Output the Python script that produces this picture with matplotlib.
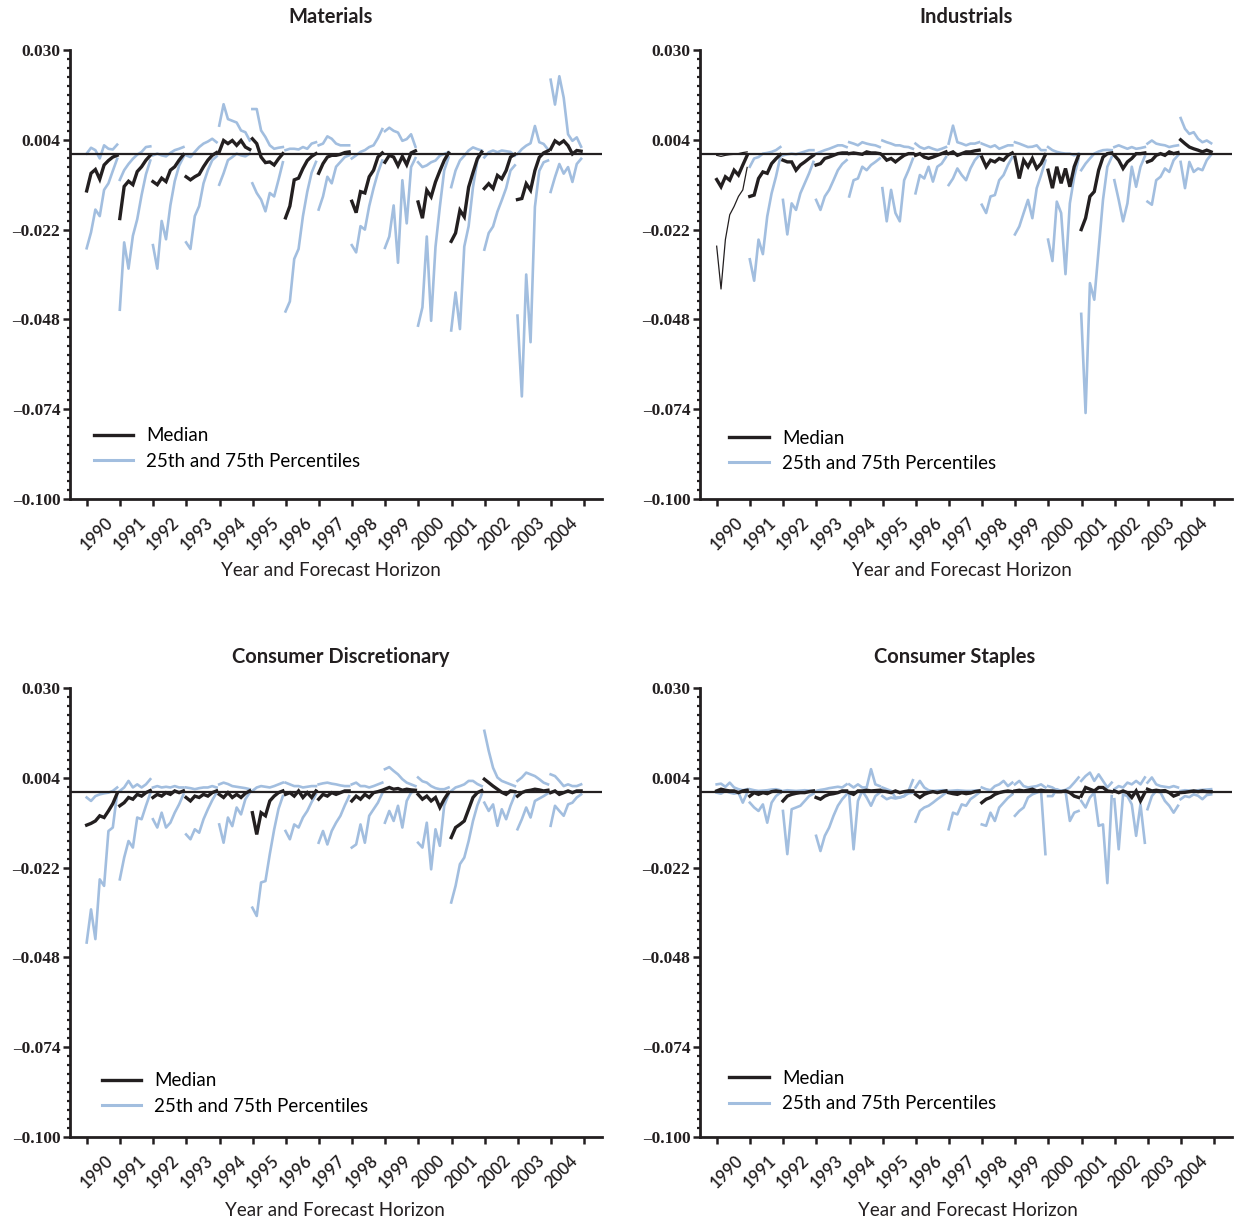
import numpy as np
import matplotlib
matplotlib.use('Agg')
import matplotlib.pyplot as plt
from matplotlib.lines import Line2D

years = list(range(1990, 2005))
y_ticks = [0.030, 0.004, -0.022, -0.048, -0.074, -0.100]
y_tick_labels = ['0.030', '0.004', '\u20130.022', '\u20130.048', '\u20130.074', '\u20130.100']
titles = ['Materials', 'Industrials', 'Consumer Discretionary', 'Consumer Staples']
legend_labels = ['Median', '25th and 75th Percentiles']
x_label = 'Year and Forecast Horizon'

# values in thousandths (0.001), 8 forecast horizons per year
materials_median = [
    [-10.8, -5.7, -4.6, -7.4, -3.3, -2.0, -1.0, -0.5],
    [-18.8, -9.5, -8.0, -9.0, -5.2, -3.8, -1.9, -0.5],
    [-8.1, -9.0, -7.1, -8.1, -4.8, -3.8, -1.9, -0.3],
    [-6.7, -7.6, -6.7, -6.0, -3.8, -1.9, -0.5, 0.3],
    [0.5, 3.8, 2.9, 3.8, 2.4, 3.8, 1.9, 1.2],
    [4.3, 2.9, -1.0, -2.6, -2.4, -3.3, -1.5, 0.0],
    [-18.6, -15.2, -7.6, -7.1, -4.3, -2.0, -0.8, 0.0],
    [-5.7, -2.9, -1.0, -0.5, -0.5, -0.2, 0.3, 0.5],
    [-13.8, -17.1, -11.0, -11.4, -6.7, -4.8, -1.0, 0.2],
    [-2.5, -0.5, -1.0, -3.5, -0.8, -3.2, 0.2, 0.8],
    [-14.0, -18.7, -10.6, -12.5, -8.2, -5.0, -2.0, 0.2],
    [-25.4, -23.0, -16.4, -18.3, -9.7, -5.5, -1.5, 0.5],
    [-10.1, -8.7, -10.1, -6.3, -7.3, -4.9, -1.0, -0.2],
    [-13.3, -13.0, -8.7, -10.6, -4.9, -1.1, 0.2, 0.8],
    [1.3, 3.7, 2.8, 3.7, 2.3, -0.1, 0.9, 0.7],
]
materials_p75 = [
    [0.0, 1.7, 1.0, -1.4, 2.4, 1.4, 1.2, 2.6],
    [-7.6, -4.8, -3.0, -1.5, -0.3, 0.5, 1.9, 2.1],
    [-0.5, 0.0, -0.5, -0.8, 0.2, 1.0, 1.4, 1.9],
    [-0.5, -1.0, 0.5, 1.9, 2.9, 3.5, 4.3, 3.3],
    [8.1, 14.3, 10.0, 9.5, 9.0, 6.7, 6.2, 3.8],
    [12.9, 12.9, 6.7, 4.8, 2.4, 1.4, 1.7, 1.9],
    [1.0, 1.4, 1.4, 1.2, 1.9, 1.4, 2.9, 3.3],
    [2.4, 2.9, 5.0, 4.3, 2.9, 2.4, 2.4, 2.4],
    [-1.4, -0.5, 0.5, 1.0, 1.9, 2.4, 4.5, 7.1],
    [6.5, 7.5, 6.6, 6.1, 3.7, 4.2, 5.6, 2.0],
    [-2.5, -3.9, -3.4, -2.5, -2.0, -0.6, -0.1, 0.4],
    [-9.7, -4.9, -2.0, -0.6, 0.9, 1.8, 1.3, 0.9],
    [-1.1, 0.4, 0.9, 0.4, 0.9, 0.7, 0.5, -0.6],
    [-0.1, 1.3, 2.3, 3.0, 8.0, 3.3, 2.8, 1.2],
    [21.4, 14.2, 22.4, 16.2, 5.6, 3.7, 4.7, 2.0],
]
materials_p25 = [
    [-27.4, -22.8, -16.2, -18.1, -10.5, -8.6, -5.0, -1.5],
    [-45.2, -25.7, -33.3, -23.8, -19.0, -12.0, -6.0, -2.0],
    [-26.5, -33.3, -19.5, -24.8, -15.0, -8.0, -3.5, -1.0],
    [-25.7, -27.6, -18.1, -15.2, -8.6, -4.8, -1.9, -0.8],
    [-9.0, -5.7, -1.9, -1.0, 0.0, -0.5, -0.8, 0.0],
    [-8.6, -11.4, -13.3, -16.7, -11.4, -12.4, -7.6, -2.5],
    [-45.7, -42.8, -30.5, -27.6, -18.1, -11.0, -5.5, -2.4],
    [-16.2, -12.4, -6.7, -8.6, -3.8, -2.4, -1.0, -0.5],
    [-26.5, -28.6, -21.0, -22.0, -15.2, -10.0, -5.5, -2.0],
    [-27.3, -24.0, -15.0, -31.6, -7.7, -20.2, -3.9, -1.3],
    [-49.8, -44.5, -24.0, -48.4, -27.0, -15.4, -4.9, -1.1],
    [-51.2, -40.2, -50.8, -26.9, -21.0, -9.7, -2.0, 0.4],
    [-27.8, -23.0, -21.1, -16.8, -13.5, -10.0, -4.9, -3.4],
    [-46.9, -70.3, -35.0, -54.6, -15.4, -5.0, -2.5, -2.0],
    [-11.1, -6.8, -3.0, -5.8, -3.9, -8.2, -3.0, -1.5],
]

industrials_median = [
    [-7.5, -9.6, -6.7, -7.7, -4.8, -6.2, -3.3, -0.5],
    [-12.4, -12.0, -7.2, -5.3, -5.7, -2.9, -1.5, -0.3],
    [-1.9, -2.4, -2.4, -4.8, -3.3, -2.4, -1.4, -0.5],
    [-3.3, -2.9, -1.4, -1.0, -0.5, 0.0, 0.2, 0.2],
    [0.0, 0.2, 0.0, -0.2, 0.5, 0.2, 0.2, 0.0],
    [-0.5, -1.9, -1.4, -2.4, -1.4, -0.5, 0.0, 0.0],
    [-0.5, 0.0, -1.0, -1.4, -1.0, -0.5, 0.0, 0.5],
    [0.0, 0.5, -0.5, 0.0, 0.5, 0.5, 0.8, 1.0],
    [-1.0, -3.8, -1.9, -2.4, -1.4, -1.9, -0.5, 0.2],
    [-1.0, -7.2, -1.9, -3.8, -1.4, -4.3, -2.9, -0.3],
    [-4.8, -10.0, -3.8, -8.6, -4.3, -9.6, -3.8, -0.5],
    [-22.0, -18.7, -12.4, -11.0, -4.8, -1.0, 0.0, 0.2],
    [-0.5, -1.9, -4.3, -2.4, -1.4, 0.0, 0.0, 0.2],
    [-2.4, -1.9, -0.5, 0.0, -0.5, 0.5, 0.0, 0.3],
    [4.0, 2.9, 1.9, 1.4, 1.0, 0.5, 1.0, 0.5],
]
industrials_p75 = [
    [-0.5, -0.8, -0.5, -0.3, -0.2, 0.0, 0.3, 0.5],
    [-3.8, -1.4, -1.0, 0.0, 0.2, 0.5, 1.0, 1.9],
    [-0.5, -0.2, 0.0, -0.2, 0.2, 0.6, 1.0, 1.0],
    [0.0, 0.5, 1.0, 1.4, 1.9, 2.4, 2.4, 1.9],
    [3.3, 2.9, 2.4, 3.3, 2.9, 2.6, 2.4, 1.9],
    [3.8, 3.3, 2.9, 2.4, 2.4, 2.0, 1.9, 1.4],
    [2.9, 1.9, 1.4, 1.9, 1.4, 1.0, 1.4, 1.9],
    [2.9, 8.1, 3.3, 2.9, 2.4, 2.9, 2.9, 3.3],
    [2.9, 2.4, 1.9, 2.4, 1.4, 1.9, 2.4, 2.4],
    [3.3, 2.9, 2.4, 1.9, 2.0, 2.4, 1.0, 1.0],
    [1.9, 1.0, 0.5, 0.2, 0.0, 0.0, -0.5, 0.0],
    [-4.8, -2.9, -1.4, 0.0, 0.6, 1.0, 1.1, 1.0],
    [1.9, 2.4, 1.9, 1.4, 1.9, 1.4, 1.6, 1.9],
    [2.9, 3.8, 2.9, 2.6, 2.4, 1.9, 2.2, 2.4],
    [10.3, 7.2, 5.7, 6.2, 4.3, 3.3, 3.8, 3.0],
]
industrials_p25 = [
    [-26.8, -39.2, -24.9, -17.7, -15.3, -12.4, -10.5, -4.0],
    [-30.6, -36.8, -24.9, -29.1, -18.2, -11.5, -6.7, -1.0],
    [-13.4, -23.4, -14.4, -16.3, -11.5, -8.6, -5.7, -2.4],
    [-13.4, -16.3, -12.4, -10.5, -7.7, -4.8, -3.0, -1.9],
    [-12.4, -7.7, -7.2, -3.8, -4.8, -3.3, -2.4, -1.4],
    [-10.0, -19.6, -10.5, -17.2, -19.6, -7.7, -4.8, -1.5],
    [-11.5, -6.2, -7.2, -3.8, -8.1, -3.8, -2.9, -1.0],
    [-9.1, -7.2, -4.3, -6.2, -7.7, -4.3, -1.9, -0.5],
    [-14.8, -17.2, -12.4, -12.0, -7.7, -6.2, -3.3, -1.0],
    [-23.4, -21.1, -17.2, -13.4, -18.7, -10.0, -6.2, -2.0],
    [-24.9, -31.1, -13.9, -17.2, -34.9, -14.4, -6.7, -1.5],
    [-46.4, -75.1, -37.5, -42.3, -27.8, -13.4, -3.8, -1.0],
    [-7.7, -13.4, -19.6, -14.4, -3.8, -9.6, -3.8, -0.8],
    [-13.9, -14.8, -7.7, -6.7, -4.3, -5.3, -1.9, -0.5],
    [-2.4, -10.0, -2.4, -5.3, -4.3, -4.8, -1.9, -0.3],
]

discretionary_median = [
    [-9.7, -9.2, -8.5, -7.0, -7.5, -5.6, -3.5, -0.5],
    [-4.1, -3.2, -1.7, -2.2, -0.8, -1.3, -0.3, 0.3],
    [-1.7, -0.8, -1.3, -0.3, -0.8, 0.2, -0.3, 0.2],
    [-1.7, -2.7, -1.3, -1.7, -0.8, -1.3, -0.3, 0.2],
    [-0.8, -1.7, -0.3, -1.7, -0.8, -1.7, -0.5, 0.2],
    [-6.1, -12.4, -6.1, -7.0, -2.7, -1.3, -0.3, 0.2],
    [-0.8, -0.3, -1.3, 0.2, -1.7, -0.3, -1.7, 0.2],
    [-2.2, -0.8, -1.3, -0.3, -0.8, -0.3, 0.2, 0.2],
    [-2.7, -1.3, -2.2, -0.8, -1.7, -0.3, 0.0, 0.4],
    [0.7, 1.2, 0.7, 0.9, 0.4, 0.7, 0.5, 0.4],
    [-0.8, -2.2, -1.3, -2.7, -1.7, -4.6, -2.2, -0.3],
    [-13.3, -10.4, -9.5, -8.5, -5.1, -1.7, -0.3, 0.3],
    [3.6, 2.6, 1.6, 0.7, -0.2, -0.8, 0.2, 0.0],
    [-1.3, -0.3, 0.2, 0.4, 0.7, 0.5, 0.2, 0.4],
    [-0.3, 0.2, -0.8, -0.3, 0.2, -0.3, 0.2, 0.2],
]
discretionary_p75 = [
    [-1.7, -2.7, -1.3, -0.8, -0.5, -0.3, 0.2, 1.2],
    [0.2, 1.2, 3.1, 1.2, 2.1, 1.2, 2.1, 3.6],
    [1.2, 1.6, 1.2, 1.4, 1.2, 1.6, 1.2, 1.2],
    [1.2, 1.0, 0.7, 1.0, 1.2, 1.2, 1.6, 1.2],
    [2.1, 2.6, 2.2, 1.6, 1.4, 1.2, 1.0, 0.7],
    [0.2, 1.2, 1.6, 1.4, 1.2, 1.6, 2.1, 2.6],
    [2.6, 2.1, 1.6, 1.6, 1.2, 1.4, 1.6, 1.6],
    [2.1, 2.4, 2.6, 2.3, 2.1, 1.8, 1.6, 1.6],
    [2.1, 2.6, 1.6, 1.6, 1.2, 1.6, 2.1, 2.6],
    [6.5, 7.1, 6.0, 5.0, 3.6, 2.6, 2.1, 1.6],
    [4.1, 3.0, 2.6, 1.6, 1.0, 0.7, 0.7, 1.2],
    [0.2, 1.2, 1.6, 2.1, 3.1, 3.1, 2.2, 1.6],
    [17.6, 11.8, 6.9, 4.1, 3.1, 2.6, 2.1, 1.6],
    [3.1, 4.1, 5.5, 5.0, 4.5, 3.6, 2.6, 2.1],
    [5.0, 4.5, 3.1, 1.6, 2.1, 1.6, 1.6, 2.1],
]
discretionary_p25 = [
    [-43.7, -34.1, -42.7, -25.4, -27.3, -11.4, -10.4, -0.5],
    [-25.4, -19.1, -14.3, -16.2, -7.5, -8.0, -4.1, -0.5],
    [-8.0, -10.4, -6.1, -10.4, -9.0, -6.1, -3.7, -0.8],
    [-12.4, -13.8, -10.9, -11.9, -8.0, -5.1, -2.5, -0.3],
    [-9.5, -14.8, -7.5, -10.0, -4.6, -6.6, -2.2, -0.3],
    [-33.6, -36.0, -26.3, -25.9, -18.1, -11.0, -5.0, -1.3],
    [-11.4, -13.8, -9.5, -10.4, -7.5, -5.6, -3.0, -0.8],
    [-14.8, -11.4, -15.3, -11.4, -9.0, -7.0, -4.0, -1.3],
    [-16.2, -15.3, -9.5, -14.8, -7.0, -5.1, -3.2, -0.5],
    [-9.0, -5.6, -8.5, -4.1, -10.4, -2.7, -0.3, 0.2],
    [-14.8, -16.2, -9.0, -22.5, -10.9, -15.7, -4.1, -0.8],
    [-32.1, -27.3, -21.0, -19.1, -14.3, -8.5, -4.0, -0.8],
    [-3.2, -5.6, -3.7, -9.9, -5.1, -8.0, -4.1, -1.0],
    [-10.9, -8.0, -4.6, -7.5, -2.7, -2.0, -1.3, -0.5],
    [-9.9, -4.1, -5.6, -7.0, -3.7, -3.2, -1.7, -0.8],
]

staples_median = [
    [0.2, 0.7, 0.4, 0.2, 0.2, -0.3, 0.2, 0.4],
    [-1.3, -0.3, -0.8, -0.3, -0.6, 0.0, 0.2, 0.0],
    [-2.7, -1.3, -0.8, -0.5, -0.3, -0.3, 0.0, 0.2],
    [-1.7, -2.2, -1.3, -0.8, -0.6, -0.3, 0.2, 0.2],
    [-0.3, -0.8, 0.2, 0.2, 0.4, 0.2, 0.3, 0.4],
    [0.2, 0.0, -0.3, 0.2, -0.3, 0.0, 0.2, 0.2],
    [-0.8, -1.7, -0.8, -0.3, 0.0, -0.3, 0.0, 0.2],
    [-0.3, -0.6, -0.8, -0.3, -0.6, -0.4, 0.0, 0.2],
    [-3.2, -2.2, -1.7, -0.8, -0.3, 0.0, 0.2, 0.0],
    [0.2, 0.4, 0.2, 0.4, 0.7, 0.2, 0.4, 0.2],
    [0.2, 0.2, 0.0, 0.0, 0.2, -0.3, -1.3, -1.7],
    [-1.3, 1.2, 0.7, 0.2, 1.2, 1.2, 0.2, 0.0],
    [0.2, -0.3, 0.2, -0.3, -1.7, 0.2, -2.7, -0.3],
    [0.7, 0.2, 0.4, 0.2, 0.3, -0.3, -1.3, -0.8],
    [-0.3, -0.2, 0.0, 0.2, 0.0, 0.2, 0.0, 0.0],
]
staples_p75 = [
    [2.1, 2.3, 1.4, 2.6, 1.2, 0.7, 0.4, 0.7],
    [0.7, 0.4, 0.2, 0.3, 0.4, 0.6, 0.7, 0.4],
    [0.2, 0.4, 0.3, 0.2, 0.3, 0.4, 0.3, 0.2],
    [0.2, 0.5, 0.7, 1.0, 1.2, 1.4, 1.2, 2.1],
    [2.1, 1.2, 2.1, 1.2, 1.2, 6.5, 2.1, 1.6],
    [1.2, 0.7, 0.2, -1.7, -1.7, -1.3, 0.2, 3.3],
    [1.2, 3.1, 1.2, 0.4, 0.2, 0.3, 0.4, 0.4],
    [0.2, 0.3, 0.4, 0.3, 0.2, 0.2, 0.3, 0.4],
    [1.2, 0.7, 0.4, 1.6, 2.1, 3.1, 1.6, 2.6],
    [2.1, 3.1, 1.6, 1.2, 1.4, 1.6, 2.1, 1.2],
    [1.6, 1.2, 0.4, 0.2, 0.5, 1.2, 2.6, 4.1],
    [3.1, 4.5, 5.5, 3.1, 5.0, 3.1, 1.2, 2.6],
    [0.7, 1.6, 1.2, 2.6, 2.1, 3.1, 2.1, 4.1],
    [2.6, 4.1, 2.1, 1.6, 1.4, 1.2, 1.6, 1.2],
    [0.2, 0.4, 0.3, 0.2, 0.4, 0.5, 0.6, 0.7],
]
staples_p25 = [
    [-0.3, -0.6, 0.2, -0.3, -0.6, -0.3, -3.2, -0.3],
    [-3.2, -4.6, -5.6, -3.7, -9.0, -3.2, -1.3, -0.3],
    [-5.6, -18.1, -5.1, -4.6, -4.1, -2.7, -1.3, -0.6],
    [-12.8, -17.2, -12.8, -10.4, -7.0, -4.1, -2.2, -0.8],
    [-1.0, -16.7, -2.7, 0.2, -1.7, -4.1, -1.3, -0.3],
    [-1.3, -2.2, -1.7, -2.0, -1.7, -1.3, -0.5, -0.3],
    [-8.7, -5.6, -4.6, -4.1, -3.2, -2.2, -1.3, -0.3],
    [-10.9, -6.1, -6.6, -3.7, -4.1, -2.2, -1.3, -0.3],
    [-9.5, -9.9, -6.1, -8.5, -4.6, -3.2, -1.8, -0.8],
    [-7.0, -5.6, -4.6, -1.7, -0.8, -0.3, 0.2, -18.1],
    [-1.3, -1.3, 0.7, 0.2, 0.2, -8.5, -6.1, -5.6],
    [-2.7, -4.6, -1.7, -0.3, -9.9, -9.5, -26.5, -1.3],
    [-2.2, -16.7, -0.8, -1.3, -3.7, -12.8, -3.7, -14.8],
    [-5.1, -1.3, 0.2, -0.3, -2.7, -4.1, -6.1, -4.1],
    [-2.2, -1.3, -1.6, -0.8, -1.2, -2.2, -1.0, -0.8],
]

panels = [
    (materials_median, materials_p75, materials_p25),
    (industrials_median, industrials_p75, industrials_p25),
    (discretionary_median, discretionary_p75, discretionary_p25),
    (staples_median, staples_p75, staples_p25),
]

BLUE = '#a2bedf'
BLACK = '#231f20'
W, H = 1235, 1224

fig = plt.figure(figsize=(W / 100, H / 100), dpi=100)

# axes boxes in pixels: left, top, right, bottom
boxes = [(70, 50, 602, 499), (700, 50, 1232, 499),
         (70, 688, 602, 1137), (700, 688, 1232, 1137)]
title_pos = [(331, 17), (966, 17), (341, 657), (955, 657)]
xlabel_pos = [(331, 570), (962, 570), (335, 1210), (968, 1210)]
legend_anchor = [(0.045, 0.065), (0.055, 0.06), (0.06, 0.05), (0.055, 0.055)]

offsets = np.linspace(0.0, 0.92, 8)

for p, (med, p75, p25) in enumerate(panels):
    l, t, r, b = boxes[p]
    ax = fig.add_axes([l / W, 1 - b / H, (r - l) / W, (b - t) / H])
    ax.set_xlim(-0.513, 15.54)
    ax.set_ylim(-0.100, 0.030)
    for s in ['top', 'right']:
        ax.spines[s].set_visible(False)
    for s in ['left', 'bottom']:
        ax.spines[s].set_linewidth(2.0)
        ax.spines[s].set_color(BLACK)

    ax.axhline(0.0, color=BLACK, lw=1.6, zorder=3)
    for i in range(len(years)):
        xs = i - 0.01 + offsets
        pstyle = dict(color=BLUE, lw=1.9, zorder=2)
        if p == 1 and i == 0:
            pstyle = dict(color=BLACK, lw=0.9, zorder=2)
        ax.plot(xs, np.array(p75[i]) / 1000.0, **pstyle)
        ax.plot(xs, np.array(p25[i]) / 1000.0, **pstyle)
        ax.plot(xs, np.array(med[i]) / 1000.0, color=BLACK, lw=2.4, zorder=4,
                solid_joinstyle='miter')

    # y axis
    ax.set_yticks(y_ticks)
    ax.set_yticklabels(y_tick_labels, fontsize=12.5, fontweight='bold',
                       family=['Liberation Serif'])
    ax.set_yticks(np.arange(-0.100, 0.0301, 0.0026), minor=True)
    ax.tick_params(axis='y', which='major', direction='out', length=5, width=1.8,
                   pad=2, colors=BLACK)
    ax.tick_params(axis='y', which='minor', direction='out', length=2.5, width=1.6,
                   colors=BLACK)

    # x axis
    ax.set_xticks(np.arange(16))
    ax.set_xticklabels([''] * 16)
    ax.tick_params(axis='x', which='major', direction='out', length=5, width=1.8,
                   colors=BLACK)
    ax.set_xticks(np.arange(15) + 0.55, minor=True)
    ax.set_xticklabels([str(y) for y in years], minor=True, rotation=45,
                       ha='right', va='top', rotation_mode='anchor',
                       fontsize=12, family=['Lato'], fontweight='semibold')
    ax.tick_params(axis='x', which='minor', length=0, pad=11, colors=BLACK)

    handles = [Line2D([0], [0], color=BLACK, lw=2.4),
               Line2D([0], [0], color=BLUE, lw=2.2)]
    ax.legend(handles, legend_labels, loc='lower left',
              bbox_to_anchor=legend_anchor[p], frameon=False,
              prop={'family': 'Lato', 'size': 13.5}, handlelength=2.1,
              handletextpad=0.7, labelspacing=0.45, borderpad=0,
              borderaxespad=0)

    tx, ty = title_pos[p]
    fig.text(tx / W, 1 - ty / H, titles[p], ha='center', va='center',
             fontsize=14.5, fontweight='bold', family=['Lato'], color=BLACK)
    lx, ly = xlabel_pos[p]
    fig.text(lx / W, 1 - ly / H, x_label, ha='center', va='center',
             fontsize=13.5, family=['Lato'], color=BLACK)

fig.savefig('out.png', dpi=100)
